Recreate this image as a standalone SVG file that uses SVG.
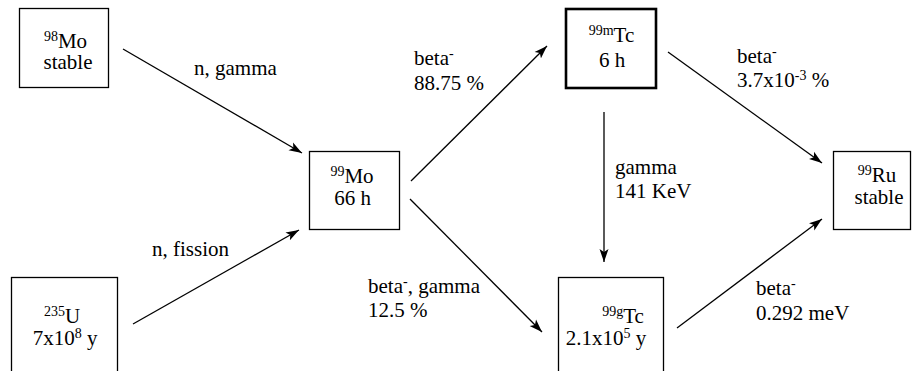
<svg xmlns="http://www.w3.org/2000/svg" width="912" height="371" viewBox="0 0 912 371" font-family="'Liberation Serif', 'DejaVu Serif', 'Times New Roman', Times, serif">
<style>
text, tspan{font-family:'Liberation Serif','DejaVu Serif','Times New Roman',Times,serif;font-size:21px;fill:#000}
.box{fill:#fff;stroke:#000;stroke-width:1.3}
.thick{stroke-width:2.6}
.c{text-anchor:middle}
.edge{stroke:#000;stroke-width:1.3;fill:none;marker-end:url(#ah)}
tspan.sup{font-size:14px}
</style>
<defs>
<marker id="ah" markerUnits="userSpaceOnUse" markerWidth="14" markerHeight="10" refX="13" refY="5" orient="auto">
<path d="M0,0.5 L13,5 L0,9.5 L3,5 z" fill="#000"/>
</marker>
</defs>
<rect width="912" height="371" fill="#fff"/>
<g id="connectors">
<line class="edge" x1="123" y1="49" x2="302" y2="153"/>
<line class="edge" x1="133" y1="324" x2="299" y2="230"/>
<line class="edge" x1="411" y1="181" x2="547" y2="46"/>
<line class="edge" x1="410" y1="199" x2="542" y2="332"/>
<line class="edge" x1="604" y1="112" x2="604" y2="262"/>
<line class="edge" x1="668" y1="52" x2="822" y2="163"/>
<line class="edge" x1="677" y1="328" x2="822" y2="219"/>
</g>
<g id="labels">
<text x="194" y="75">n, gamma</text>
<text x="152" y="256">n, fission</text>
<text x="414" y="65">beta<tspan class="sup" dy="-7">-</tspan></text>
<text x="414" y="90">88.75 %</text>
<text x="368" y="293">beta<tspan class="sup" dy="-7">-</tspan><tspan dy="7">, gamma</tspan></text>
<text x="368" y="317">12.5 %</text>
<text x="615" y="174">gamma</text>
<text x="615" y="198">141 KeV</text>
<text x="737" y="63">beta<tspan class="sup" dy="-7">-</tspan></text>
<text x="737" y="87">3.7x10<tspan class="sup" dy="-7">-3</tspan><tspan dy="7"> %</tspan></text>
<text x="756" y="295">beta<tspan class="sup" dy="-7">-</tspan></text>
<text x="756" y="320">0.292 meV</text>
</g>
<g id="mo98">
<rect class="box" x="19.5" y="8.5" width="89" height="79"/>
<text class="c" x="65.5" y="48"><tspan class="sup" dy="-7">98</tspan><tspan dy="7">Mo</tspan></text>
<text class="c" x="68" y="69">stable</text>
</g>
<g id="mo99">
<rect class="box" x="309.5" y="151.5" width="90" height="78"/>
<text class="c" x="352" y="183"><tspan class="sup" dy="-7">99</tspan><tspan dy="7">Mo</tspan></text>
<text class="c" x="352.5" y="205">66 h</text>
</g>
<g id="u235">
<rect class="box" x="11.5" y="277.5" width="106" height="100"/>
<text class="c" x="62" y="323"><tspan class="sup" dy="-7">235</tspan><tspan dy="7">U</tspan></text>
<text class="c" x="65" y="345">7x10<tspan class="sup" dy="-7">8</tspan><tspan dy="7"> y</tspan></text>
</g>
<g id="tc99m">
<rect class="box thick" x="566" y="9" width="90" height="79"/>
<text class="c" x="611.5" y="42"><tspan class="sup" dy="-7">99m</tspan><tspan dy="7">Tc</tspan></text>
<text class="c" x="612" y="67">6 h</text>
</g>
<g id="tc99g">
<rect class="box" x="558.5" y="277.5" width="105" height="100"/>
<text class="c" x="623" y="323"><tspan class="sup" dy="-7">99g</tspan><tspan dy="7">Tc</tspan></text>
<text class="c" x="606" y="345">2.1x10<tspan class="sup" dy="-7">5</tspan><tspan dy="7"> y</tspan></text>
</g>
<g id="ru99">
<rect class="box" x="833.5" y="151.5" width="77" height="78"/>
<text class="c" x="877" y="182"><tspan class="sup" dy="-7">99</tspan><tspan dy="7">Ru</tspan></text>
<text class="c" x="879" y="204">stable</text>
</g>
</svg>
